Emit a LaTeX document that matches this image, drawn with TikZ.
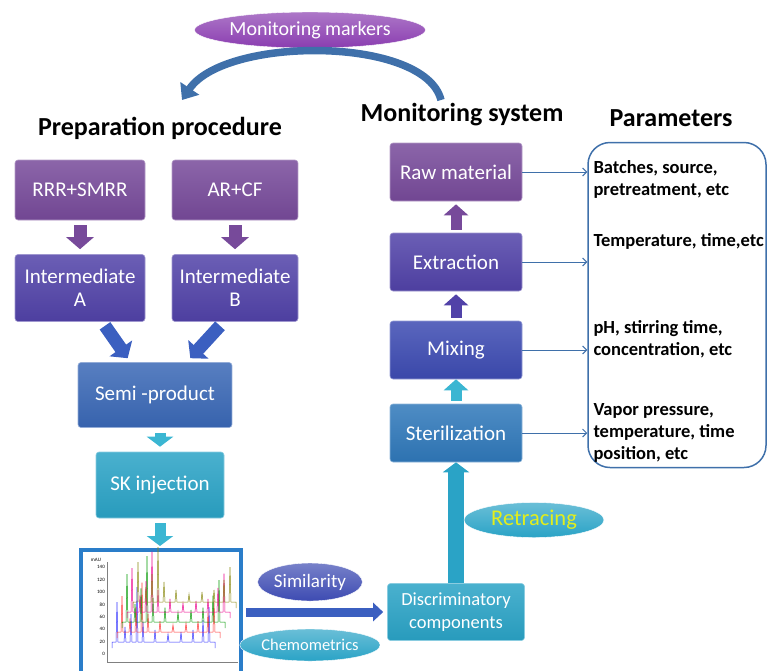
\documentclass[tikz,border=0pt]{standalone}
\usepackage{fontspec}
\setmainfont{Carlito}
\usetikzlibrary{arrows.meta,shapes.geometric,positioning}
\definecolor{plum}{HTML}{774A9A}
\definecolor{indigoA}{HTML}{5142A8}
\definecolor{indigoB}{HTML}{3D4BB2}
\definecolor{royal}{HTML}{3A68B6}
\definecolor{steril}{HTML}{2F78BA}
\definecolor{tealA}{HTML}{2AA3C6}
\definecolor{cyanA}{HTML}{3BB6D2}
\definecolor{violetA}{HTML}{8A3DB0}
\definecolor{linkblue}{HTML}{3F70AA}
\definecolor{arrowblue}{HTML}{3B5FC0}
\definecolor{chromblue}{HTML}{2A7DC9}
\definecolor{olive}{HTML}{8A8A10}
\definecolor{lemon}{HTML}{E2EE1C}

\begin{document}
\begin{tikzpicture}[x=1pt, y=-1pt,
    stagebox/.style={rounded corners=3pt, top color=#1!85!white, bottom color=#1!95!black, draw=#1!55!white,
        line width=0.6pt, text=white, align=center, minimum width=130pt, minimum height=60pt,
        font=\fontsize{21}{23}\selectfont},
    pill/.style={ellipse, top color=#1!70!white, bottom color=#1, draw=white, text=white,
        inner sep=1pt, font=\fontsize{19}{21}\selectfont},
    blockarrow/.style={line width=13pt, color=#1, -{Triangle[width=27pt,length=12pt]},
        shorten <=5pt, shorten >=5pt},
    param/.style={-{Straight Barb[length=4pt,width=8pt]}, line width=1pt, color=linkblue},
    heading/.style={font=\fontsize{26}{28}\selectfont\bfseries},
    partext/.style={anchor=west, align=left, font=\fontsize{18.5}{22}\selectfont\bfseries}]
    \useasboundingbox (0,0) rectangle (768,670);

    % headings and markers
    \node[heading] (prep) at (160,128) {Preparation procedure};
    \node[heading] (monsys) at (462,115) {Monitoring system};
    \node[heading] (paramhead) at (671,118) {Parameters};
    \node[pill=violetA, minimum width=210pt, minimum height=36pt, font=\fontsize{20}{22}\selectfont] (markers) at (310,30) {Monitoring markers};
    \coordinate (mstart) at (441,100);
    \coordinate (mend) at (182,100);
    \draw[line width=7.5pt, linkblue, -{Triangle[width=22pt,length=14pt]}]
        (mstart) .. controls (425,36) and (225,36) .. (mend);

    % preparation procedure
    \node[stagebox=plum] (rrr) at (80,190) {RRR+SMRR};
    \node[stagebox=plum, minimum width=126pt] (arcf) at (235,190) {AR+CF};
    \node[stagebox=indigoA, minimum height=67pt] (intA) at (80,288) {Intermediate\\A};
    \node[stagebox=indigoA, minimum width=126pt, minimum height=67pt] (intB) at (235,288) {Intermediate\\B};
    \node[stagebox=royal, minimum width=154pt, minimum height=65pt] (semi) at (155,395) {Semi -product};
    \node[stagebox=tealA, minimum width=128pt, minimum height=66pt] (sk) at (160,485) {SK injection};
    \draw[blockarrow=plum] (rrr) -- (intA);
    \draw[blockarrow=plum] (arcf) -- (intB);
    \draw[blockarrow=arrowblue, shorten <=0pt, shorten >=0pt] ([shift={(25,4)}]intA.south) -- ([shift={(50,-4)}]semi.north west);
    \draw[blockarrow=arrowblue, shorten <=0pt, shorten >=0pt] ([shift={(-15,4)}]intB.south) -- ([shift={(-42,-4)}]semi.north east);
    \draw[blockarrow=cyanA, line width=11pt, -{Triangle[width=26pt,length=10pt]}] (semi.south -| sk) -- (sk);
    \draw[blockarrow=cyanA, line width=11pt, -{Triangle[width=26pt,length=10pt]}] (sk) -- (sk |- 0,551);

    % chromatogram
    \node[draw=chromblue, line width=4.5pt, fill=white, minimum width=160pt, minimum height=130pt] (chrom) at (161,615) {};
    \draw[gray, line width=0.4pt] (107,562) -- (107,662) -- (238,662);
    \node[font=\fontsize{5}{5}\selectfont] (mau) at (96,560) {mAU};
    \foreach \v in {0,20,...,140}
        \node[anchor=east, inner sep=1pt, font=\fontsize{5}{5}\selectfont] at (106,654-\v*0.621) {\v};
    \foreach \col/\xo/\yo/\s in {blue!80/112/648/1, red!80/117/638/0.9, green!60!black/122/628/1.2, magenta/127/618/1.1, olive/133/608/1}
        \draw[\col, line width=0.5pt] (\xo,\yo) -- ++(0,-6)
            \foreach \dx/\h in {4/40, 12/15, 18/28, 24/55, 30/20, 42/12, 55/8, 68/10, 80/12, 90/22, 96/35}
                { -- (\xo+\dx,\yo-6) -- (\xo+\dx+1,\yo-6-\h*\s) -- (\xo+\dx+2,\yo-6) }
            -- (\xo+103,\yo-6) -- ++(0,6);

    % similarity analysis
    \node[pill=indigoB, minimum width=104pt, minimum height=38pt] (simil) at (310,582) {Similarity};
    \node[pill=tealA, minimum width=108pt, minimum height=32pt, font=\fontsize{16.5}{18}\selectfont] (chemo) at (310,645) {Chemometrics};
    \node[stagebox=tealA, minimum width=137pt, minimum height=57pt, font=\fontsize{18.5}{23}\selectfont] (disc) at (456,612) {Discriminatory\\components};
    \draw[line width=9pt, arrowblue, -{Triangle[width=18pt,length=10pt]}, shorten <=3pt, shorten >=4pt]
        (chrom.east |- disc) -- (disc.west);

    % monitoring system
    \node[stagebox=plum, minimum width=132pt, minimum height=58pt] (raw) at (456,172) {Raw material};
    \node[stagebox=indigoA, minimum width=132pt, minimum height=58pt] (extr) at (456,262) {Extraction};
    \node[stagebox=indigoB, minimum width=132pt, minimum height=58pt] (mix) at (456,350) {Mixing};
    \node[stagebox=steril, minimum width=132pt, minimum height=58pt] (ster) at (456,433) {Sterilization};
    \draw[blockarrow=plum, line width=11pt, -{Triangle[width=24pt,length=11pt]}, shorten <=3pt, shorten >=3pt] (extr) -- (raw);
    \draw[blockarrow=indigoA, line width=11pt, -{Triangle[width=24pt,length=11pt]}, shorten <=3pt, shorten >=3pt] (mix) -- (extr);
    \draw[blockarrow=cyanA, line width=11pt, -{Triangle[width=24pt,length=11pt]}, shorten <=3pt, shorten >=0pt] (ster) -- (mix);
    \draw[line width=16pt, tealA, -{Triangle[width=26pt,length=10pt]}] (disc.north) -- (ster.south);
    \node[pill=tealA, minimum width=140pt, minimum height=35pt, text=lemon, font=\fontsize{22.5}{24}\selectfont] (retr) at (534,520) {Retracing};

    % parameters
    \node[draw=linkblue, line width=1.5pt, rounded corners=22pt, minimum width=178pt, minimum height=325pt] (par) at (677,305) {};
    \draw[param] (raw.east) -- (raw.east -| par.west);
    \draw[param] (extr.east) -- (extr.east -| par.west);
    \draw[param] (mix.east) -- (mix.east -| par.west);
    \draw[param] (ster.east) -- (ster.east -| par.west);
    \node[partext] (p1) at (590,179) {Batches, source,\\pretreatment, etc};
    \node[partext] (p2) at (590,241) {Temperature, time,etc};
    \node[partext] (p3) at (590,339) {pH, stirring time,\\concentration, etc};
    \node[partext] (p4) at (590,433) {Vapor pressure,\\temperature, time\\position, etc};
\end{tikzpicture}
\end{document}
